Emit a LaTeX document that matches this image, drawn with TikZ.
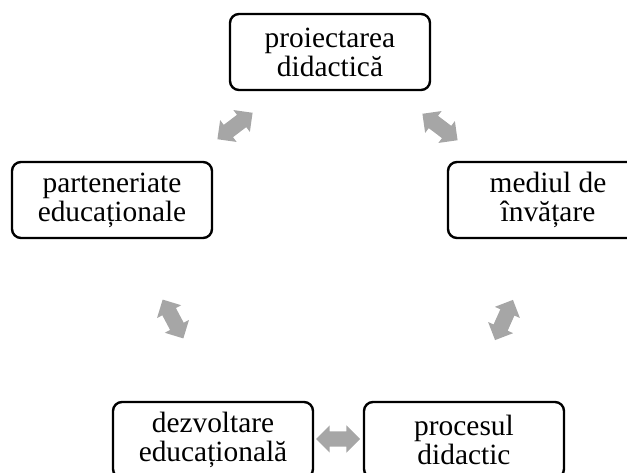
\documentclass[tikz,border=0pt]{standalone}
\usepackage{fontspec}
\setmainfont{Liberation Serif}
\usetikzlibrary{shapes.arrows}
\definecolor{arrowgray}{HTML}{A6A6A6}
\tikzset{
  box/.style={draw, line width=2.4bp, rounded corners=9bp, minimum width=200bp,
    minimum height=76bp, align=center, inner sep=0pt,
    font=\fontsize{29.5}{29}\selectfont},
  dblarrow/.style={double arrow, fill=arrowgray, draw=none, inner sep=7.5bp,
    minimum height=44bp, double arrow head extend=6bp}
}
\begin{document}
\begin{tikzpicture}[x=1bp,y=-1bp]
\useasboundingbox (0,0) rectangle (627,473);
\node[box] (proiect) at (330,52) {proiectarea\\didactică};
\node[box] (mediu) at (548,200) {mediul de\\învățare};
\node[box] (proces) at (464,440) {procesul\\didactic};
\node[box] (dezv) at (213,440) {dezvoltare\\educațională};
\node[box] (parten) at (112,200) {parteneriate\\educaționale};
\node[dblarrow, rotate=-37] (a1) at (440,127) {};
\node[dblarrow, rotate=66] (a2) at (504,320) {};
\node[dblarrow] (a3) at (338,439) {};
\node[dblarrow, rotate=-62] (a4) at (173,319) {};
\node[dblarrow, rotate=37] (a5) at (235,126) {};
\end{tikzpicture}
\end{document}
